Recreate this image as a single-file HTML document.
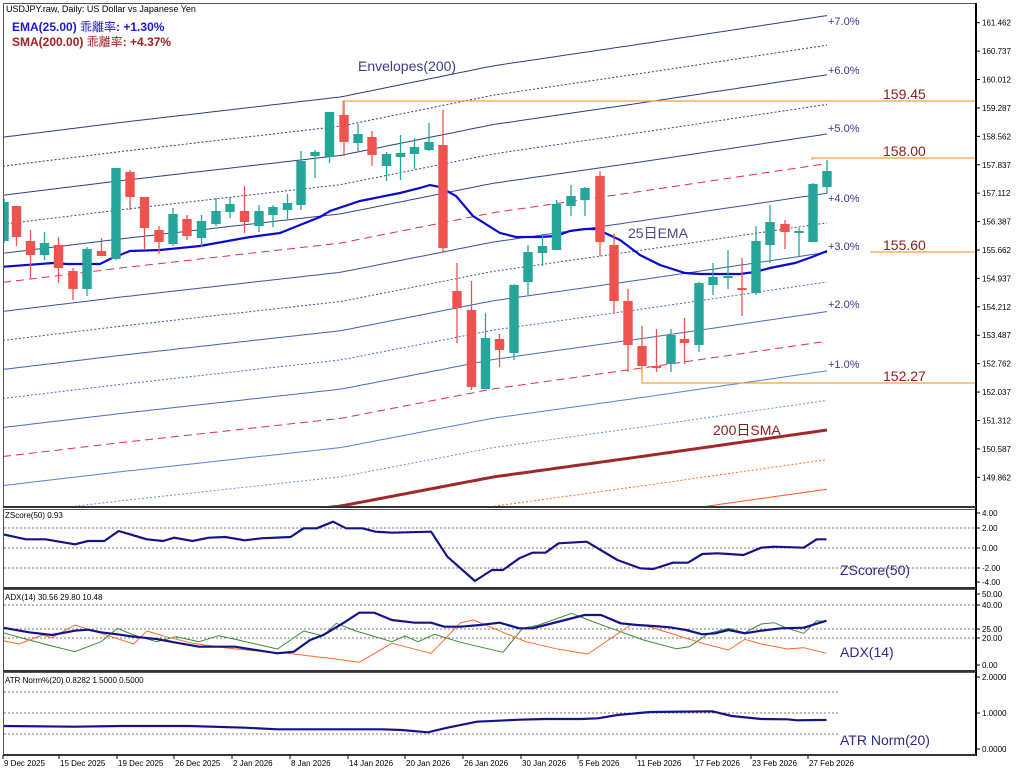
<!DOCTYPE html>
<html><head><meta charset="utf-8"><style>
html,body{margin:0;padding:0;background:#fff;}
svg{display:block;font-family:"Liberation Sans","Noto Sans CJK JP",sans-serif;}
</style></head><body>
<svg id="c" width="1024" height="773" viewBox="0 0 1024 773" xmlns="http://www.w3.org/2000/svg">
<rect x="0" y="0" width="1024" height="773" fill="#fff"/>
<g id="g"></g>
<!-- frames -->
<g fill="none" stroke="#555" stroke-width="1">
<rect x="3.5" y="3.5" width="972" height="503"/>
<rect x="3.5" y="509.5" width="972" height="78"/>
<rect x="3.5" y="589.5" width="972" height="81"/>
<rect x="3.5" y="672.5" width="972" height="82"/>
</g>
<line x1="976" y1="3" x2="976" y2="756" stroke="#000" stroke-width="2"/>
<line x1="3" y1="507" x2="976" y2="507" stroke="#333" stroke-width="2"/>
<line x1="3" y1="588" x2="976" y2="588" stroke="#333" stroke-width="2"/>
<line x1="3" y1="671" x2="976" y2="671" stroke="#333" stroke-width="2"/>
<line x1="3" y1="755" x2="976" y2="755" stroke="#333" stroke-width="2"/>
<text x="6" y="12" font-size="9" fill="#000">USDJPY.raw, Daily:  US Dollar vs Japanese Yen</text>
<text x="12" y="31" font-size="12" fill="#1a1ad0" font-weight="bold">EMA(25.00) <tspan font-weight="normal">乖離率</tspan>: +1.30%</text>
<text x="12" y="46" font-size="12" fill="#a02020" font-weight="bold">SMA(200.00) <tspan font-weight="normal">乖離率</tspan>: +4.37%</text>
<text x="358" y="71" font-size="14" fill="#3c3c8c">Envelopes(200)</text>
<text x="628" y="238" font-size="14" fill="#4a4a8a">25日EMA</text>
<text x="713" y="435" font-size="14" fill="#8b2020">200日SMA</text>
<g font-size="11" fill="#3a3a8a">
<text x="828" y="25">+7.0%</text><text x="828" y="74">+6.0%</text><text x="828" y="132">+5.0%</text>
<text x="828" y="202">+4.0%</text><text x="828" y="250">+3.0%</text><text x="828" y="308">+2.0%</text><text x="828" y="368">+1.0%</text>
</g>
<g stroke="#f5a040" stroke-width="1.3" fill="none">
<polyline points="343,115 343,101 975,101"/>
<polyline points="812,160 812,158 975,158"/>
<line x1="870" y1="252" x2="975" y2="252"/>
<polyline points="642,366 642,383 975,383"/>
</g>
<g font-size="14" fill="#8b2020">
<text x="883" y="99">159.45</text><text x="883" y="156">158.00</text><text x="883" y="250">155.60</text><text x="883" y="381">152.27</text>
</g>
<g font-size="14" fill="#2a2a8a">
<text x="840" y="575">ZScore(50)</text><text x="840" y="657">ADX(14)</text><text x="840" y="745">ATR Norm(20)</text>
</g>
<g font-size="8" fill="#000">
<text x="5" y="518">ZScore(50) 0.93</text>
<text x="5" y="600">ADX(14) 30.56 29.80 10.48</text>
<text x="5" y="683">ATR Norm%(20) 0.8282 1.5000 0.5000</text>
</g>
<g id="ax" font-size="8" fill="#000"></g>
</svg>
<script>
var NS="http://www.w3.org/2000/svg",G=document.getElementById('g'),AX=document.getElementById('ax');
function el(t,a,p){var e=document.createElementNS(NS,t);for(var k in a)e.setAttribute(k,a[k]);(p||G).appendChild(e);return e;}
function txt(x,y,s,p,a){var e=el('text',Object.assign({x:x,y:y},a||{}),p);e.textContent=s;return e;}
function Y(p){return 22.7+(161.462-p)*39.19;}
function P(y){return 161.462-(y-22.7)/39.19;}
// SMA piecewise
var S=[[0,544],[120,530],[341,506],[493,477],[645,456],[827,430]];
function smaY(x){for(var i=0;i<S.length-1;i++){if(x<=S[i+1][0]){var t=(x-S[i][0])/(S[i+1][0]-S[i][0]);return S[i][1]+t*(S[i+1][1]-S[i][1]);}}return 430;}
function env(k){var pts=[];for(var x=3;x<=827;x+=6){var p=P(smaY(x))*(1+k/100);pts.push(x+','+Y(p).toFixed(1));}pts.push('827,'+Y(P(430)*(1+k/100)).toFixed(1));return pts.join(' ');}
var defs=el('defs',{});var cp=el('clipPath',{id:'cm'},defs);el('rect',{x:4,y:4,width:971,height:502},cp);
var MG=el('g',{'clip-path':'url(#cm)'});
var lv=[[7,'#2f3f78','s'],[6.5,'#2f3f78','d'],[6,'#2f3f78','s'],[5.5,'#34468a','d'],[5,'#34468a','s'],[4.5,'#e0304a','r'],[4,'#3a52a0','s'],[3.5,'#3a52a0','d'],[3,'#4060b0','s'],[2.5,'#4a6ac0','d'],[2,'#4a6ac0','s'],[1.5,'#e0304a','r'],[1,'#5a80d8','s'],[0.5,'#6a90e0','d'],[-0.5,'#ff6a2a','d'],[-1,'#ff5a20','s']];
lv.forEach(function(l){var a={points:env(l[0]),fill:'none',stroke:l[1],'stroke-width':1};
 if(l[2]=='d')a['stroke-dasharray']='2,2';if(l[2]=='r')a['stroke-dasharray']='8,5';el('polyline',a,MG);});
// SMA line
var sp=[];for(var x=3;x<=827;x+=6)sp.push(x+','+smaY(x).toFixed(1));sp.push('827,430');
el('polyline',{points:sp.join(' '),fill:'none',stroke:'#a02828','stroke-width':3},MG);
// EMA
var E=[[0,267],[53,263],[67,264],[100,264],[110,259],[130,251],[160,250],[200,246],[250,237],[280,233],[300,225],[320,217],[330,211],[360,201],[400,193],[420,188],[430,185],[440,187],[456,196],[473,216],[500,233],[516,237],[540,237],[556,236],[570,231],[585,229],[595,229],[605,233],[620,240],[640,255],[660,265],[685,273],[700,274],[740,274],[755,272],[770,268],[795,263],[812,257],[827,251]];
el('polyline',{points:E.map(function(p){return p.join(',')}).join(' '),fill:'none',stroke:'#0a0ad0','stroke-width':2.2},MG);
// candles
var C=[[4,202,241,198,243,1],[16.5,206,237,209,246,0],[30.5,241,255,230,279,0],[44.5,243,255,232,260,1],[58.5,245,268,237,283,0],[73,271,289,268,300,0],[87,249,289,247,296,1],[101.5,251,256,238,256,0],[116,168,259,168,260,1],[130,172,197,170,210,0],[144.5,197,228,197,250,0],[159,230,242,226,254,0],[173,214,244,208,246,1],[187,219,236,215,240,0],[201.5,221,238,215,247,1],[216,211,224,198,226,1],[230,204,212,198,218,1],[244.5,211,222,186,233,0],[259,211,226,205,232,1],[273,207,215,205,227,1],[287.5,203,210,194,219,1],[301,161,205,151,210,1],[315,152,156,150,178,1],[329.5,112,157,112,163,1],[344,115,142,101,156,0],[358,134,143,124,152,1],[372,137,155,131,166,0],[386.5,154,166,152,181,1],[400.5,153,157,135,180,1],[414.5,147,154,138,169,1],[429,142,150,123,151,1],[443,145,248,110,253,0],[457,291,308,263,343,0],[471.5,310,387,281,390,0],[485.5,338,389,313,389,1],[499.5,339,350,334,367,0],[514,285,353,284,360,1],[528,252,282,245,295,1],[542.5,246,253,234,266,1],[556.5,204,250,200,250,1],[571,196,206,185,216,1],[585,188,200,187,216,1],[600,176,242,171,256,0],[614,245,301,234,314,0],[628,301,345,289,372,0],[642,346,366,326,371,0],[656.5,366,368,329,372,0],[671,335,364,329,372,1],[684.5,339,343,318,364,0],[699,283,345,282,352,1],[713,277,285,263,295,1],[728,276,278,250,289,1],[742,288,290,258,316,0],[756,241,293,226,295,1],[770,222,245,205,263,1],[785,224,232,220,249,0],[799,231,233,228,256,1],[813,184,242,183,242,1],[827,171,187,160,193,1]];
C.forEach(function(c){var col=c[5]?'#26a69a':'#ef5350';
 el('line',{x1:c[0],y1:c[3],x2:c[0],y2:c[4],stroke:col,'stroke-width':1.3},MG);
 el('rect',{x:c[0]-4.7,y:c[1],width:9.4,height:Math.max(1.5,c[2]-c[1]),fill:col},MG);});
// right axis main
var labs=['161.462','160.737','160.012','159.287','158.562','157.837','157.112','156.387','155.662','154.937','154.212','153.487','152.762','152.037','151.312','150.587','149.862'];
labs.forEach(function(s){var y=Y(parseFloat(s));el('line',{x1:976,y1:y,x2:980,y2:y,stroke:'#000'},AX);txt(982,y+3,s,AX);});
// subpanels
function dl(y,x2){el('line',{x1:4,y1:y,x2:x2,y2:y,stroke:'#777','stroke-dasharray':'2,2','stroke-width':1});}
[528,548,568].forEach(function(y){dl(y,975)});
[605,629,638].forEach(function(y){dl(y,975)});
[692,713,734].forEach(function(y){dl(y,838)});
[['4.00',513],['2.00',528],['0.00',548],['-2.00',568],['-4.00',582],['50.00',594],['40.00',605],['25.00',629],['20.00',638],['0.00',665],['2.0000',677],['1.0000',713],['0.0000',749]].forEach(function(a){el('line',{x1:976,y1:a[1],x2:980,y2:a[1],stroke:'#000'},AX);txt(982,a[1]+3,a[0],AX);});
function pl(arr,col,w){el('polyline',{points:arr.map(function(p){return (p[0]/1.53+3).toFixed(1)+','+(500+p[1]/3).toFixed(1)}).join(' '),fill:'none',stroke:col,'stroke-width':w,'stroke-linejoin':'round'});}
pl([[0,103],[35,118],[65,118],[110,133],[130,123],[155,123],[177,93],[220,118],[245,123],[262,113],[290,123],[315,113],[340,111],[370,121],[395,115],[440,111],[460,85],[480,85],[505,65],[525,85],[550,85],[570,95],[595,98],[655,95],[680,170],[722,243],[748,210],[765,210],[790,175],[810,158],[830,158],[850,130],[893,125],[940,180],[975,205],[995,207],[1025,188],[1048,188],[1070,162],[1093,160],[1110,162],[1133,165],[1160,143],[1180,140],[1225,143],[1245,118],[1260,118]],'#14148a',2.2);
pl([[0,398],[40,420],[75,438],[110,455],[150,425],[175,385],[200,405],[235,425],[265,410],[300,425],[330,407],[360,420],[420,447],[460,393],[490,408],[510,370],[540,393],[595,425],[615,408],[635,425],[660,403],[700,427],[765,457],[795,385],[820,375],[870,340],[900,363],[945,395],[980,420],[1030,446],[1050,440],[1080,400],[1110,385],[1135,398],[1160,372],[1180,368],[1200,385],[1225,400],[1245,362],[1260,365]],'#3a8a3a',1);
pl([[0,422],[25,432],[60,405],[75,413],[110,375],[150,400],[200,432],[220,393],[250,410],[290,430],[345,445],[400,455],[435,460],[470,468],[500,475],[545,487],[595,430],[655,460],[700,368],[720,360],[765,397],[800,425],[850,448],[895,462],[960,375],[980,375],[1030,405],[1070,430],[1110,450],[1135,418],[1160,432],[1200,447],[1225,443],[1260,460]],'#ff6a2a',1);
pl([[0,383],[40,397],[75,405],[110,392],[130,389],[150,397],[175,403],[200,410],[235,417],[265,428],[300,440],[330,440],[355,440],[380,448],[420,460],[445,455],[470,420],[490,405],[520,370],[545,338],[568,338],[595,360],[630,368],[655,368],[675,380],[700,380],[730,375],[760,368],[790,385],[810,385],[830,375],[860,360],[890,345],[915,345],[945,370],[970,375],[995,378],[1020,382],[1045,390],[1070,403],[1090,400],[1110,390],[1135,400],[1160,392],[1190,385],[1225,383],[1260,362]],'#14148a',2.2);
pl([[0,678],[110,680],[180,678],[285,678],[370,683],[420,688],[520,688],[580,688],[610,690],[650,697],[680,683],[725,665],[790,659],[830,657],[885,657],[910,655],[940,645],[990,636],[1085,634],[1115,648],[1160,657],[1200,658],[1215,661],[1245,660],[1260,660]],'#14148a',2.2);
// dates
[['9 Dec 2025',3],['15 Dec 2025',59],['19 Dec 2025',117],['26 Dec 2025',174],['2 Jan 2026',232],['8 Jan 2026',290],['14 Jan 2026',348],['20 Jan 2026',405],['26 Jan 2026',463],['30 Jan 2026',521],['5 Feb 2026',578],['11 Feb 2026',636],['17 Feb 2026',694],['23 Feb 2026',751],['27 Feb 2026',808]].forEach(function(d){el('line',{x1:d[1],y1:755,x2:d[1],y2:759,stroke:'#000'},AX);txt(d[1]+1,766,d[0],AX);});
</script>
</body></html>
